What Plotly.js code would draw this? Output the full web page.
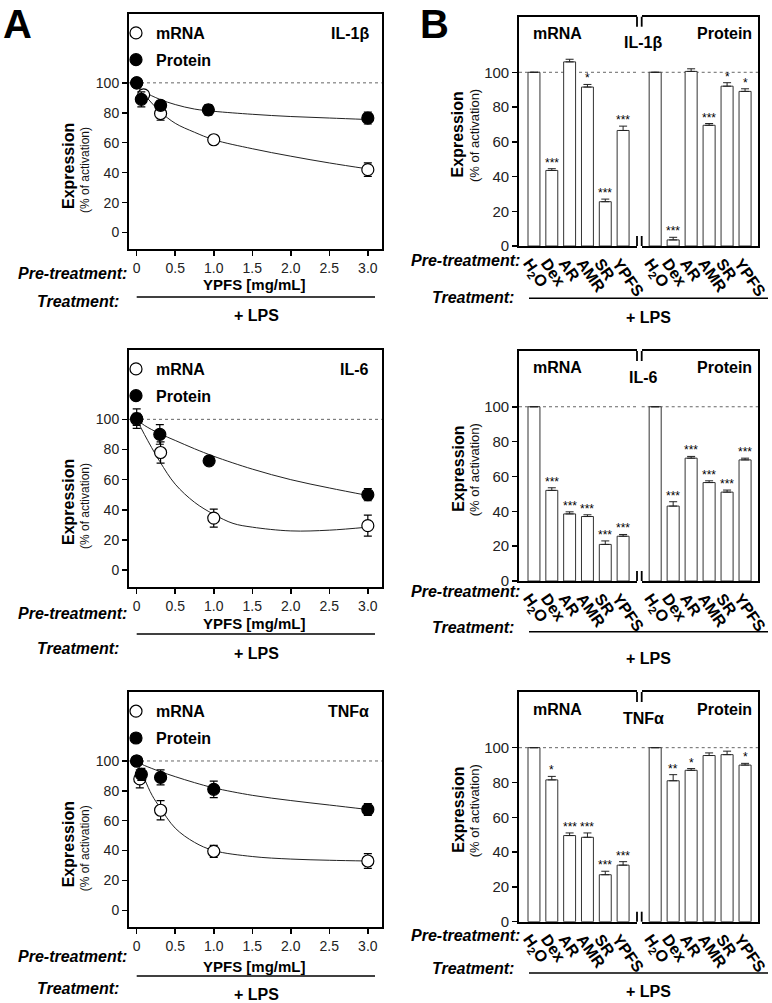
<!DOCTYPE html>
<html><head><meta charset="utf-8">
<script src="https://cdn.plot.ly/plotly-3.0.1.min.js"></script>
<style>html,body{margin:0;padding:0;background:#fff}#chart{width:772px;height:1003px}</style>
</head><body><div id="chart"></div>
<script>
// ---------------- DATA ----------------
const doseTicks = [0, 0.5, 1, 1.5, 2, 2.5, 3];
const doseTickText = ['0', '0.5', '1.0', '1.5', '2.0', '2.5', '3.0'];
const pctTicks = [0, 20, 40, 60, 80, 100];
const genes = ['IL-1β', 'IL-6', 'TNFα'];
const treatments = ['H<sub>2</sub>O', 'Dex', 'AR', 'AMR', 'SR', 'YPFS'];

// Panel A – dose response (mRNA = open circles, Protein = filled circles)
const il1bMrnaX = [0, 0.09, 0.31, 1.0, 3.0];
const il1bMrnaY = [100, 92, 79.5, 62, 42];
const il1bMrnaErr = [0, 2, 4.5, 3, 4.5];
const il1bProtX = [0, 0.06, 0.31, 0.93, 3.0];
const il1bProtY = [100, 89, 85, 82, 76.5];
const il1bProtErr = [0, 5, 3, 3.5, 4];
const il1bMrnaFitX = [0, 0.1, 0.3, 0.5, 0.75, 1, 1.5, 2, 2.5, 3];
const il1bMrnaFitY = [98, 92, 81, 73, 67, 62, 56, 51, 46.5, 42.5];
const il1bProtFitX = [0, 0.1, 0.3, 0.5, 0.75, 1, 1.5, 2, 2.5, 3];
const il1bProtFitY = [98.5, 94, 89, 85.5, 82.5, 81, 79, 77.5, 76.5, 75.5];

const il6MrnaX = [0, 0.31, 1.0, 3.0];
const il6MrnaY = [100, 78, 34.5, 29.5];
const il6MrnaErr = [4, 7, 6, 7];
const il6ProtX = [0, 0.3, 0.94, 3.0];
const il6ProtY = [100.5, 90, 72.5, 50];
const il6ProtErr = [6.5, 6.5, 2.5, 4];
const il6MrnaFitX = [0, 0.1, 0.3, 0.5, 0.75, 1, 1.25, 1.5, 2, 2.5, 3];
const il6MrnaFitY = [100, 90, 72, 57, 45, 37, 31, 28.5, 26, 26.5, 28.5];
const il6ProtFitX = [0, 0.1, 0.3, 0.5, 0.75, 1, 1.5, 2, 2.5, 3];
const il6ProtFitY = [100, 96, 90.5, 86, 80.5, 75.5, 67, 60, 54.5, 49.5];

const tnfMrnaX = [0, 0.04, 0.31, 1.0, 3.0];
const tnfMrnaY = [100, 88, 67, 39.5, 33];
const tnfMrnaErr = [0, 6, 6.5, 4, 5];
const tnfProtX = [0, 0.06, 0.31, 1.0, 3.0];
const tnfProtY = [100, 91, 89, 81, 67.5];
const tnfProtErr = [0, 4, 5, 5.5, 4];
const tnfMrnaFitX = [0, 0.1, 0.2, 0.3, 0.5, 0.75, 1, 1.5, 2, 2.5, 3];
const tnfMrnaFitY = [99.5, 88, 77, 69, 55, 45.5, 40, 36, 34.3, 33.5, 33];
const tnfProtFitX = [0, 0.1, 0.3, 0.5, 0.75, 1, 1.5, 2, 2.5, 3];
const tnfProtFitY = [99.5, 97, 93, 89.5, 85.5, 82, 77, 73.5, 70.5, 67.5];

// Panel B – bar charts
const il1bBarMrna = [100, 43.5, 106, 91.5, 25.5, 66.5];
const il1bBarMrnaErr = [0, 1, 1.5, 1.5, 1.5, 2.5];
const il1bBarMrnaSig = ['', '***', '', '*', '***', '***'];
const il1bBarProt = [100, 3.5, 100.5, 69.5, 92, 89];
const il1bBarProtErr = [0, 1.5, 1.5, 1, 2, 1.5];
const il1bBarProtSig = ['', '***', '', '***', '*', '*'];

const il6BarMrna = [100, 52, 38.5, 37, 21, 25.7];
const il6BarMrnaErr = [0, 1.5, 1.2, 1, 2, 1];
const il6BarMrnaSig = ['', '***', '***', '***', '***', '***'];
const il6BarProt = [100, 43, 70.5, 56.5, 51, 69.5];
const il6BarProtErr = [0, 2.5, 1, 1, 1.2, 1];
const il6BarProtSig = ['', '***', '***', '***', '***', '***'];

const tnfBarMrna = [100, 81.5, 49.5, 48.5, 27, 32.5];
const tnfBarMrnaErr = [0, 2, 1.5, 2.5, 2, 2];
const tnfBarMrnaSig = ['', '*', '***', '***', '***', '***'];
const tnfBarProt = [100, 81, 87, 95.5, 96, 90];
const tnfBarProtErr = [0, 3.5, 1, 1.5, 2, 1];
const tnfBarProtSig = ['', '**', '*', '', '', '*'];

// ---------------- LAYOUT / BUILD ----------------
const W = 772, H = 1003;
const FONT = 'Liberation Sans, Arial, Helvetica, sans-serif';
const px = p => p / W;
const py = p => 1 - p / H;

const rows = [
  { gene: genes[0],
    mx: il1bMrnaX, my: il1bMrnaY, me: il1bMrnaErr, px_: il1bProtX, py_: il1bProtY, pe: il1bProtErr,
    mfx: il1bMrnaFitX, mfy: il1bMrnaFitY, pfx: il1bProtFitX, pfy: il1bProtFitY,
    bm: il1bBarMrna, bme: il1bBarMrnaErr, bms: il1bBarMrnaSig, bp: il1bBarProt, bpe: il1bBarProtErr, bps: il1bBarProtSig,
    aTop: 14, aBot: 249, bTop: 16.7, bBot: 246,
    aPre: 273, aYpfs: 285, aLine: 297, aTreat: 301, aLps: 315,
    bPre: 260, bTreat: 297, bLine: 298.3, bLps: 317 },
  { gene: genes[1],
    mx: il6MrnaX, my: il6MrnaY, me: il6MrnaErr, px_: il6ProtX, py_: il6ProtY, pe: il6ProtErr,
    mfx: il6MrnaFitX, mfy: il6MrnaFitY, pfx: il6ProtFitX, pfy: il6ProtFitY,
    bm: il6BarMrna, bme: il6BarMrnaErr, bms: il6BarMrnaSig, bp: il6BarProt, bpe: il6BarProtErr, bps: il6BarProtSig,
    aTop: 350, aBot: 586.7, bTop: 351, bBot: 581,
    aPre: 613, aYpfs: 623, aLine: 634, aTreat: 648, aLps: 653,
    bPre: 591, bTreat: 627, bLine: 631.7, bLps: 658 },
  { gene: genes[2],
    mx: tnfMrnaX, my: tnfMrnaY, me: tnfMrnaErr, px_: tnfProtX, py_: tnfProtY, pe: tnfProtErr,
    mfx: tnfMrnaFitX, mfy: tnfMrnaFitY, pfx: tnfProtFitX, pfy: tnfProtFitY,
    bm: tnfBarMrna, bme: tnfBarMrnaErr, bms: tnfBarMrnaSig, bp: tnfBarProt, bpe: tnfBarProtErr, bps: tnfBarProtSig,
    aTop: 692.3, aBot: 926.7, bTop: 692, bBot: 921.7,
    aPre: 956, aYpfs: 966, aLine: 976, aTreat: 988, aLps: 994,
    bPre: 935, bTreat: 968, bLine: 973, bLps: 991 }
];

const data = [];
const layout = {
  width: W, height: H,
  margin: { l: 0, r: 0, t: 0, b: 0 },
  paper_bgcolor: '#fff', plot_bgcolor: 'rgba(0,0,0,0)',
  font: { family: FONT, color: '#000', size: 13 },
  showlegend: true,
  annotations: [], shapes: []
};

const sfx = n => (n === 1 ? '' : String(n));
const ann = (text, x, y, o = {}) => Object.assign({
  xref: 'paper', yref: 'paper', x: px(x), y: py(y), text, showarrow: false,
  xanchor: 'center', yanchor: 'middle', font: { family: FONT, size: 16, color: '#000' }
}, o);
const hline = (x0, x1, y, w = 1.5) => ({ type: 'line', xref: 'paper', yref: 'paper',
  x0: px(x0), x1: px(x1), y0: py(y), y1: py(y), line: { color: '#000', width: w } });

const boldItal = { family: FONT, size: 16, color: '#000', weight: 'bold', style: 'italic' };
const bold16 = { family: FONT, size: 16, color: '#000', weight: 'bold' };

rows.forEach((r, i) => {
  const ia = 3 * i + 1, ib1 = 3 * i + 2, ib2 = 3 * i + 3;
  const legName = i === 0 ? 'legend' : 'legend' + (i + 1);

  // ---- Panel A axes ----
  layout['xaxis' + sfx(ia)] = {
    domain: [px(129), px(381.7)], anchor: 'y' + sfx(ia), range: [-0.1, 3.18],
    tickvals: doseTicks, ticktext: doseTickText, ticks: 'outside', ticklen: 5, tickwidth: 1.5,
    tickcolor: '#000', showline: true, mirror: true, linewidth: 2, linecolor: '#000',
    showgrid: false, zeroline: false, tickfont: { size: 14, color: '#222' }
  };
  layout['yaxis' + sfx(ia)] = {
    domain: [py(r.aBot), py(r.aTop)], anchor: 'x' + sfx(ia), range: [-11, 146],
    tickvals: pctTicks, ticks: 'outside', ticklen: 5, tickwidth: 1.5, tickcolor: '#000',
    showline: true, mirror: true, linewidth: 2, linecolor: '#000',
    showgrid: false, zeroline: false, tickfont: { size: 14, color: '#222' }
  };
  layout.annotations.push(ann('<b>Expression</b>', 68, r.aTop + 152, { textangle: -90 }));
  layout.annotations.push(ann('(% of activation)', 85, r.aTop + 156, { textangle: -90,
    font: { family: FONT, size: 12, color: '#111' } }));

  // fitted curves
  data.push({ type: 'scatter', mode: 'lines', x: r.mfx, y: r.mfy, line: { shape: 'spline', color: '#222', width: 1 },
    xaxis: 'x' + sfx(ia), yaxis: 'y' + sfx(ia), showlegend: false, hoverinfo: 'skip' });
  data.push({ type: 'scatter', mode: 'lines', x: r.pfx, y: r.pfy, line: { shape: 'spline', color: '#222', width: 1 },
    xaxis: 'x' + sfx(ia), yaxis: 'y' + sfx(ia), showlegend: false, hoverinfo: 'skip' });
  // points
  data.push({ type: 'scatter', mode: 'markers', name: '<b>mRNA</b>', x: r.mx, y: r.my,
    error_y: { type: 'data', array: r.me, color: '#000', thickness: 1.2, width: 4 },
    marker: { symbol: 'circle', size: 12, color: '#fff', line: { color: '#000', width: 1.2 } },
    xaxis: 'x' + sfx(ia), yaxis: 'y' + sfx(ia), legend: legName, legendgroup: 'm' + i, showlegend: true });
  data.push({ type: 'scatter', mode: 'markers', name: '<b>Protein</b>', x: r.px_, y: r.py_,
    error_y: { type: 'data', array: r.pe, color: '#000', thickness: 1.2, width: 4 },
    marker: { symbol: 'circle', size: 12, color: '#000', line: { color: '#000', width: 1.2 } },
    xaxis: 'x' + sfx(ia), yaxis: 'y' + sfx(ia), legend: legName, legendgroup: 'p' + i, showlegend: true });

  layout[legName] = {
    x: px(116), xanchor: 'left', y: py(r.aTop + 2), yanchor: 'top',
    bgcolor: 'rgba(0,0,0,0)', borderwidth: 0, itemwidth: 30,
    font: { family: FONT, size: 16, color: '#000' }, traceorder: 'grouped', tracegroupgap: 3,
    itemclick: false
  };

  layout.shapes.push({ type: 'line', xref: 'x' + sfx(ia) + ' domain', yref: 'y' + sfx(ia),
    x0: 0, x1: 1, y0: 100, y1: 100, layer: 'below', line: { color: '#666', width: 1, dash: '3px,3px' } });

  layout.annotations.push(ann('<b>' + r.gene + '</b>', 371, r.aTop + 19, { xanchor: 'right' }));
  layout.annotations.push(ann('Pre-treatment:', 129, r.aPre, { xanchor: 'right', font: boldItal }));
  layout.annotations.push(ann('YPFS [mg/mL]', 254, r.aYpfs, { font: { family: FONT, size: 15, color: '#000', weight: 'bold' } }));
  layout.annotations.push(ann('Treatment:', 120.5, r.aTreat, { xanchor: 'right', font: boldItal }));
  layout.annotations.push(ann('+ LPS', 256, r.aLps, { font: bold16 }));
  layout.shapes.push(hline(136.7, 375, r.aLine));

  // ---- Panel B axes ----
  const bxCommon = {
    type: 'category', tickmode: 'array', tickvals: treatments, ticktext: treatments,
    ticks: '', showline: true, mirror: true, linewidth: 1.8, linecolor: '#000',
    showgrid: false, zeroline: false, tickangle: 55, ticklabelshift: -5, ticklabelstandoff: 0,
    tickfont: { size: 16, color: '#000', weight: 'bold' }
  };
  layout['xaxis' + ib1] = Object.assign({}, bxCommon, { domain: [px(519), px(637)], anchor: 'y' + ib1, range: [-0.84, 5.78] });
  layout['xaxis' + ib2] = Object.assign({}, bxCommon, { domain: [px(641.7), px(758)], anchor: 'y' + ib2, range: [-0.75, 5.72] });
  layout['yaxis' + ib1] = {
    domain: [py(r.bBot), py(r.bTop)], anchor: 'x' + ib1, range: [0, 132],
    tickvals: pctTicks, ticks: 'outside', ticklen: 5, tickwidth: 1.5, tickcolor: '#000',
    showline: true, linewidth: 1.8, linecolor: '#000', showgrid: false, zeroline: false,
    tickfont: { size: 15, color: '#222' }
  };
  layout['yaxis' + ib2] = {
    domain: [py(r.bBot), py(r.bTop)], anchor: 'x' + ib2, range: [0, 132], side: 'right',
    ticks: '', showticklabels: false, showline: true, linewidth: 1.8, linecolor: '#000',
    showgrid: false, zeroline: false
  };
  layout.annotations.push(ann('<b>Expression</b>', 457.7, r.bTop + 118, { textangle: -90 }));
  layout.annotations.push(ann('(% of activation)', 474.3, r.bTop + 119, { textangle: -90,
    font: { family: FONT, size: 13, color: '#111' } }));

  [[ib1, r.bm, r.bme, r.bms], [ib2, r.bp, r.bpe, r.bps]].forEach(([ax, vals, errs, sig]) => {
    data.push({ type: 'bar', x: treatments, y: vals, width: 0.67,
      marker: { color: '#fff', line: { color: '#333', width: 1 } },
      error_y: { type: 'data', symmetric: false, array: errs, arrayminus: errs.map(() => 0),
        color: '#222', thickness: 1, width: 4 },
      xaxis: 'x' + ax, yaxis: 'y' + ax, showlegend: false, hoverinfo: 'skip' });
    sig.forEach((s, k) => {
      if (!s) return;
      layout.annotations.push({ xref: 'x' + ax, yref: 'y' + ax, x: k, y: vals[k] + errs[k],
        text: s, showarrow: false, yanchor: 'bottom', yshift: -3,
        font: { family: FONT, size: 12, color: '#000' } });
    });
    layout.shapes.push({ type: 'line', xref: 'x' + ax + ' domain', yref: 'y' + ax,
      x0: 0, x1: 1, y0: 100, y1: 100, layer: 'below', line: { color: '#666', width: 1, dash: '3px,3px' } });
  });
  // break marks
  const bk = 10 / (r.bBot - r.bTop);
  [['x' + ib1, 'y' + ib1, 1], ['x' + ib2, 'y' + ib2, 0]].forEach(([xa, ya, xv]) => {
    layout.shapes.push({ type: 'line', xref: xa + ' domain', yref: ya + ' domain', x0: xv, x1: xv, y0: 0, y1: bk, line: { color: '#000', width: 1.8 } });
    layout.shapes.push({ type: 'line', xref: xa + ' domain', yref: ya + ' domain', x0: xv, x1: xv, y0: 1 - bk, y1: 1, line: { color: '#000', width: 1.8 } });
  });

  layout.annotations.push(ann('<b>mRNA</b>', 557.7, r.bTop + 17));
  layout.annotations.push(ann('<b>Protein</b>', 724, r.bTop + 17));
  layout.annotations.push(ann('<b>' + r.gene + '</b>', 643, r.bTop + 26));
  layout.annotations.push(ann('Pre-treatment:', 522, r.bPre, { xanchor: 'right', font: boldItal }));
  layout.annotations.push(ann('Treatment:', 516, r.bTreat, { xanchor: 'right', font: boldItal }));
  layout.annotations.push(ann('+ LPS', 648, r.bLps, { font: bold16 }));
  layout.shapes.push(hline(529, 768, r.bLine));
});

layout.annotations.push(ann('<b>A</b>', 17, 0, { yanchor: 'top', font: { family: FONT, size: 40, color: '#000' } }));
layout.annotations.push(ann('<b>B</b>', 434, 0, { yanchor: 'top', font: { family: FONT, size: 40, color: '#000' } }));

Plotly.newPlot('chart', data, layout, { staticPlot: true, displayModeBar: false });
</script></body></html>
